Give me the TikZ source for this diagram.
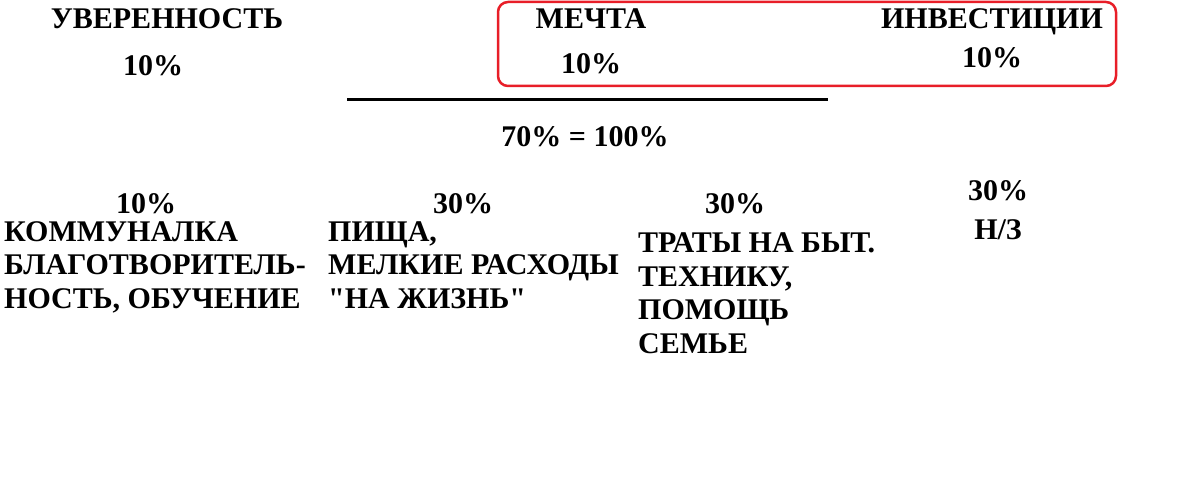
\documentclass[tikz,border=0pt]{standalone}
\usepackage{fontspec}
\setmainfont{Liberation Serif}[Ligatures=TeXOff]
\usetikzlibrary{positioning}
\definecolor{boxred}{RGB}{232,30,40}

\begin{document}
\begin{tikzpicture}[x=1pt, y=-1pt, inner sep=0pt, font=\fontsize{30}{33.5}\selectfont\bfseries]
\tikzstyle{head}=[anchor=base]
\tikzstyle{pct}=[anchor=base]
\tikzstyle{list}=[anchor=base west, align=left]
\useasboundingbox (0,0) rectangle (1200,497);
% top row
\node[head] (conf)   at (167,29)  {УВЕРЕННОСТЬ};
\node[pct]  (confp)  at (153,76)  {10\%};
\node[head] (dream)  at (591,29)  {МЕЧТА};
\node[pct]  (dreamp) at (591,74)  {10\%};
\node[head] (inv)    at (992,29)  {ИНВЕСТИЦИИ};
\node[pct]  (invp)   at (992,68)  {10\%};
\draw[boxred, line width=2.5pt, rounded corners=10pt] (498,2) rectangle (1116,86);
% rule
\coordinate (rl) at (347,100);
\coordinate (rr) at (828,100);
\draw[line width=3pt] (rl) -- (rr);
\node[pct]  (total)  at (585,147) {70\% = 100\%};
% bottom row (base = last line)
\node[pct]  (billp)  at (146,214) {10\%};
\node[list] (bill)   at (4,308.5)   {КОММУНАЛКА\\БЛАГОТВОРИТЕЛЬ-\\НОСТЬ, ОБУЧЕНИЕ};
\node[pct]  (foodp)  at (463,214) {30\%};
\node[list] (food)   at (328,308.5) {ПИЩА,\\МЕЛКИЕ РАСХОДЫ\\"НА ЖИЗНЬ"};
\node[pct]  (homep)  at (735,214) {30\%};
\node[list] (home)   at (638,353) {ТРАТЫ НА БЫТ.\\ТЕХНИКУ,\\ПОМОЩЬ\\СЕМЬЕ};
\node[pct]  (savep)  at (998,201) {30\%};
\node[head] (save)   at (998,240) {Н/З};
\end{tikzpicture}
\end{document}
